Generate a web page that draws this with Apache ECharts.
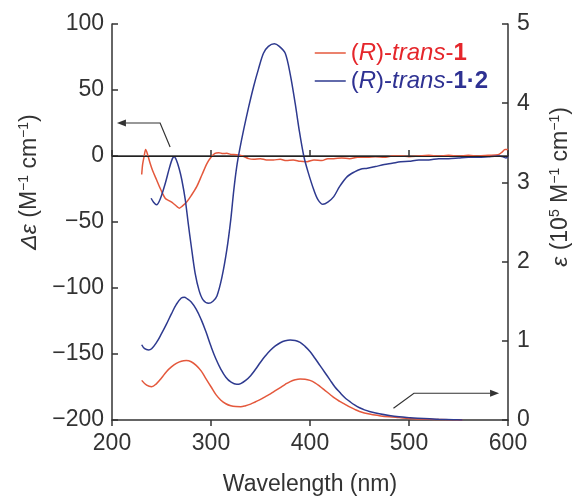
<!DOCTYPE html>
<html><head><meta charset="utf-8">
<script src="https://cdn.jsdelivr.net/npm/echarts@6/dist/echarts.min.js"></script>
<style>html,body{margin:0;padding:0;background:#fff}#c{width:581px;height:497px}</style>
</head><body><div id="c"></div>
<script>
// CD spectra (wavelength nm, Δε)
const cdRed = [[230,-14],[231,-6],[232.5,0],[234,5],[236,1],[238.5,-5.5],[241,-11],[245,-18],[249,-25],[253.7,-32],[258,-34],[262,-36],[266,-38.5],[268,-39.5],[271,-38],[275.6,-34.6],[280,-30],[285.7,-23],[291,-14],[296,-5.6],[300,-1],[304,2],[308,2.5],[312,1.8],[316,2],[320,1.2],[326,1],[332,0],[338,-2],[343,-2.5],[350,-2],[356,-3],[363,-3],[370,-2.5],[376,-3.5],[383,-3],[390,-4],[397,-4.3],[404,-3],[412,-3.5],[418,-2],[424,-2],[432,-1.5],[440,-2],[448,-1],[458,-1],[466,-0.5],[475,-1],[483,0],[492,0],[500,-0.5],[510,0],[520,0.5],[530,0],[540,0.5],[550,0],[560,0.5],[570,0],[580,0.5],[590,1],[594,3],[597,5],[600,5]];
const cdBlue = [[239.5,-32],[242,-35],[245,-37],[249,-32],[253.7,-21],[258,-9],[261,-2],[262.8,-0.5],[265,-3],[268,-10],[270.5,-18],[274,-33],[277,-51],[280,-68],[284,-89],[288,-102],[292,-109],[297.6,-111.6],[302,-110],[306,-106],[311,-92],[316,-71],[320,-48],[323,-26],[326,-8],[329,5],[333,20],[338,37],[343,52.5],[348,66],[353,77.8],[358,83],[364,85],[369,83],[375,77.8],[380,62],[385,40],[389,20],[393.7,0],[398,-12],[404,-26],[408,-33],[413,-36.6],[418,-35],[424,-30.8],[430,-23],[437.6,-15.6],[445,-12],[451,-10],[458,-9.3],[466,-8],[475,-6.5],[483,-5.5],[491.6,-4.3],[500,-4],[510,-3],[520,-3],[530,-2],[540,-2],[550,-1.5],[560,-1],[570,-1],[580,-0.5],[590,0],[595,-0.5],[598,-1.5],[600,0]];
// Absorption spectra (wavelength nm, ε / 10^5)
const absRed = [[230,0.5],[235,0.44],[240,0.42],[245,0.46],[250,0.53],[255,0.61],[260,0.67],[265,0.715],[270,0.742],[275,0.75],[280,0.735],[285,0.69],[290,0.62],[295,0.52],[300,0.42],[305,0.32],[310,0.25],[315,0.205],[320,0.18],[325,0.17],[330,0.168],[335,0.18],[340,0.2],[345,0.23],[350,0.26],[355,0.295],[360,0.33],[365,0.37],[370,0.41],[375,0.45],[380,0.485],[385,0.508],[390,0.518],[395,0.515],[400,0.5],[405,0.47],[410,0.425],[415,0.375],[420,0.325],[425,0.275],[430,0.235],[435,0.2],[440,0.165],[445,0.135],[450,0.108],[460,0.075],[470,0.055],[480,0.04],[490,0.03],[500,0.02],[520,0.01],[540,0.004],[554,0]];
const absBlue = [[230,0.95],[233,0.9],[237,0.884],[240,0.9],[245,0.98],[250,1.09],[255,1.21],[260,1.34],[265,1.46],[270,1.54],[273,1.55],[276,1.53],[280,1.49],[285,1.4],[290,1.27],[295,1.11],[300,0.93],[305,0.77],[310,0.64],[315,0.54],[320,0.48],[326,0.45],[330,0.46],[335,0.5],[340,0.56],[345,0.64],[350,0.73],[355,0.81],[360,0.88],[365,0.935],[370,0.975],[375,1.0],[380,1.01],[385,1.005],[390,0.98],[395,0.93],[400,0.865],[405,0.78],[410,0.69],[415,0.6],[420,0.51],[425,0.42],[430,0.35],[435,0.285],[440,0.235],[445,0.19],[450,0.155],[455,0.128],[460,0.108],[470,0.078],[480,0.056],[490,0.04],[500,0.03],[515,0.018],[530,0.01],[545,0.004],[554,0]];
// Axis ranges
const xRange = [200, 600, 100];
const cdRange = [-200, 100, 50];
const absRange = [0, 5, 1];
// Annotation arrows (data coords)
const arrowLeft = [[258.7,6.8],[248.6,25],[205,25]];
const arrowRight = [[484.3,0.148],[505,0.338],[591,0.338]];
const names = ['(R)-trans-1', '(R)-trans-1·2'];

const RED_LINE = '#e4583c', BLUE_LINE = '#2e3a8f';
const RED_TXT = '#e5262b', BLUE_TXT = '#2e3192';
const FONT = 'Liberation Sans, Arial, sans-serif';
const AX = '#333';
const FS = 23;

const chart = echarts.init(document.getElementById('c'));
const richLegend = {
  rn:{color:RED_TXT,fontSize:24,fontFamily:FONT},
  ri:{color:RED_TXT,fontSize:24,fontFamily:FONT,fontStyle:'italic'},
  rb:{color:RED_TXT,fontSize:24,fontFamily:FONT,fontWeight:'bold'},
  bn:{color:BLUE_TXT,fontSize:24,fontFamily:FONT},
  bi:{color:BLUE_TXT,fontSize:24,fontFamily:FONT,fontStyle:'italic'},
  bb:{color:BLUE_TXT,fontSize:24,fontFamily:FONT,fontWeight:'bold'}
};
const supStyle = {fontSize:14,fontFamily:FONT,color:AX,verticalAlign:'top',lineHeight:26};
const option = {
  animation:false,
  grid:{left:112,right:73,top:24,bottom:77,outerBoundsMode:'none',containLabel:false},
  legend:{
    orient:'vertical', left:314, top:41, padding:0, itemGap:4, itemWidth:31, itemHeight:24,
    itemStyle:{opacity:0},
    lineStyle:{width:1.5},
    data:[{name:names[0]},{name:names[1]}],
    textStyle:{rich:richLegend},
    formatter:function(n){
      return n===names[0] ? '{rn|(}{ri|R}{rn|)-}{ri|trans}{rn|-}{rb|1}'
                          : '{bn|(}{bi|R}{bn|)-}{bi|trans}{bn|-}{bb|1·2}';
    }
  },
  xAxis:[{
    type:'value', min:xRange[0], max:xRange[1], interval:xRange[2], position:'bottom',
    name:'Wavelength (nm)', nameLocation:'middle', nameGap:53,
    nameTextStyle:{fontSize:FS,fontFamily:FONT,color:AX},
    axisLine:{lineStyle:{color:AX,width:1.5}},
    axisTick:{inside:true,length:6,lineStyle:{color:AX,width:1.5}},
    axisLabel:{fontSize:FS,fontFamily:FONT,color:AX,margin:12},
    splitLine:{show:false}
  },{
    type:'value', min:xRange[0], max:xRange[1], interval:xRange[2], position:'top',
    axisLine:{show:true,lineStyle:{color:AX,width:1.5}},
    axisTick:{show:true,inside:true,length:6,lineStyle:{color:AX,width:1.5}},
    axisLabel:{show:false}, splitLine:{show:false}
  }],
  yAxis:[{
    type:'value', min:cdRange[0], max:cdRange[1], interval:cdRange[2], position:'left',
    name:'{i|Δε}{n| (M}{s|−1}{n| cm}{s|−1}{n|)}', nameLocation:'middle', nameGap:56, nameRotate:90,
    nameTextStyle:{padding:[0,0,0,80], rich:{
      i:{fontSize:FS,fontFamily:FONT,color:AX,fontStyle:'italic',lineHeight:26},
      n:{fontSize:FS,fontFamily:FONT,color:AX,lineHeight:26},
      s:supStyle}},
    axisLine:{show:true,lineStyle:{color:AX,width:1.5}},
    axisTick:{inside:true,length:6,lineStyle:{color:AX,width:1.5}},
    axisLabel:{fontSize:FS,fontFamily:FONT,color:AX,margin:8,
      formatter:v=> v<0 ? '−'+Math.abs(v) : String(v)},
    splitLine:{show:false}
  },{
    type:'value', min:absRange[0], max:absRange[1], interval:absRange[2], position:'right',
    name:'{i|ε}{n| (10}{s|5}{n| M}{s|−1}{n| cm}{s|−1}{n|)}', nameLocation:'middle', nameGap:40, nameRotate:90,
    nameTextStyle:{padding:[0,0,0,70], rich:{
      i:{fontSize:FS,fontFamily:FONT,color:AX,fontStyle:'italic',lineHeight:26},
      n:{fontSize:FS,fontFamily:FONT,color:AX,lineHeight:26},
      s:supStyle}},
    axisLine:{show:true,lineStyle:{color:AX,width:1.5}},
    axisTick:{inside:true,length:6,lineStyle:{color:AX,width:1.5}},
    axisLabel:{fontSize:FS,fontFamily:FONT,color:AX,margin:9},
    splitLine:{show:false}
  }],
  series:[
    {name:names[0], type:'line', data:cdRed, xAxisIndex:0, yAxisIndex:0, symbol:'none', smooth:0.3,
     lineStyle:{color:RED_LINE,width:1.5}, itemStyle:{color:RED_LINE}, z:3,
     markLine:{silent:true, symbol:'none', label:{show:false}, data:[{yAxis:0}],
       lineStyle:{color:'#222',width:1,type:'solid'}}},
    {name:names[1], type:'line', data:cdBlue, xAxisIndex:0, yAxisIndex:0, symbol:'none', smooth:0.3,
     lineStyle:{color:BLUE_LINE,width:1.5}, itemStyle:{color:BLUE_LINE}, z:4},
    {name:names[0], type:'line', data:absRed, xAxisIndex:0, yAxisIndex:1, symbol:'none', smooth:0.4,
     lineStyle:{color:RED_LINE,width:1.5}, itemStyle:{color:RED_LINE}, z:3},
    {name:names[1], type:'line', data:absBlue, xAxisIndex:0, yAxisIndex:1, symbol:'none', smooth:0.4,
     lineStyle:{color:BLUE_LINE,width:1.5}, itemStyle:{color:BLUE_LINE}, z:4}
  ]
};
chart.setOption(option);

function arrowGraphics(pts, yIdx){
  const px = pts.map(p => chart.convertToPixel({xAxisIndex:0, yAxisIndex:yIdx}, p));
  const n = px.length, a = px[n-1], b = px[n-2];
  const ang = Math.atan2(a[1]-b[1], a[0]-b[0]);
  const L = 9, W = 3.5;
  const bx = a[0]-L*Math.cos(ang), by = a[1]-L*Math.sin(ang);
  const head = [a, [bx - W*Math.sin(ang), by + W*Math.cos(ang)], [bx + W*Math.sin(ang), by - W*Math.cos(ang)]];
  const line = px.slice(0, n-1).concat([[bx, by]]);
  return [
    {type:'polyline', shape:{points:line}, style:{stroke:'#333', lineWidth:1.2, fill:null}, z:10},
    {type:'polygon', shape:{points:head}, style:{fill:'#333'}, z:10}
  ];
}
chart.setOption({graphic: arrowGraphics(arrowLeft,0).concat(arrowGraphics(arrowRight,1))});
</script>
</body></html>
